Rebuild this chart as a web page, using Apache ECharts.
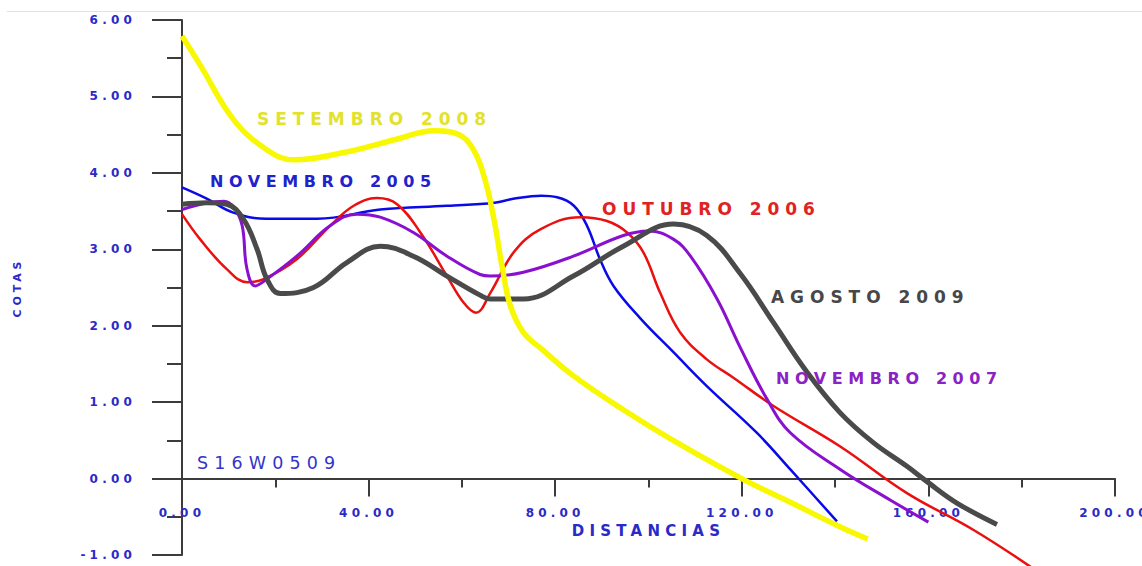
<!DOCTYPE html>
<html>
<head>
<meta charset="utf-8">
<script src="https://cdn.jsdelivr.net/npm/echarts@6/dist/echarts.min.js"></script>
<style>
    html, body { margin: 0; padding: 0; background: #fff; }
    #chart { width: 1142px; height: 566px; }
    /* espaçamento largo das letras, como no gráfico original */
    #chart text { letter-spacing: 0.35em; }
</style>
</head>
<body>
<div id="chart"></div>
<script>
/* ========== Perfil S16W0509 - cotas x distâncias ========== */

// [distância, cota]
const novembro2005 = [
    [0, 3.81], [5.4, 3.66], [11, 3.48], [18, 3.40], [29, 3.40], [42.5, 3.52],
    [56.8, 3.57], [67, 3.61], [71, 3.66], [77, 3.70], [80.4, 3.68], [84, 3.57],
    [86.8, 3.31], [89.6, 2.87], [92.5, 2.52], [98.2, 2.10], [105.4, 1.65],
    [112.5, 1.21], [123.2, 0.60], [130.4, 0.12], [140.4, -0.56],
];
const outubro2006 = [
    [0, 3.46], [3.9, 3.13], [9.6, 2.74], [14, 2.57], [17.5, 2.61], [24.6, 2.87],
    [31.8, 3.31], [36.8, 3.57], [41.8, 3.67], [46.1, 3.59], [51.1, 3.22],
    [56.8, 2.65], [60.4, 2.30], [63, 2.17], [66.1, 2.43], [71.1, 2.96],
    [76.8, 3.26], [85.4, 3.42], [91.1, 3.37], [95.4, 3.22], [98.9, 2.96],
    [102.5, 2.43], [106.8, 1.91], [112.5, 1.56], [118.2, 1.32], [126.8, 0.95],
    [141.1, 0.42], [155.4, -0.19], [169.6, -0.67], [183, -1.2],
];
const novembro2007 = [
    [0, 3.52], [5.4, 3.61], [9, 3.63], [11.1, 3.55], [12.9, 3.31], [13.9, 2.75],
    [15.7, 2.52], [18.2, 2.61], [24.6, 2.91], [31.8, 3.31], [37.5, 3.46],
    [42.5, 3.42], [49.6, 3.22], [56.8, 2.91], [63.9, 2.67], [66.1, 2.65],
    [73.2, 2.70], [83.9, 2.91], [94.6, 3.18], [100, 3.24], [105.4, 3.13],
    [109, 2.91], [114.7, 2.35], [119.7, 1.71], [125.4, 1.04], [130.4, 0.60],
    [141.1, 0.12], [151.8, -0.28], [160, -0.57],
];
const setembro2008 = [
    [0, 5.79], [4, 5.40], [11, 4.70], [18, 4.31], [24, 4.17], [35, 4.27],
    [46, 4.44], [54, 4.55], [59, 4.51], [62.5, 4.30], [65, 3.90], [67, 3.35],
    [68.6, 2.78], [70.4, 2.26], [73.2, 1.91], [77, 1.70], [84, 1.34],
    [94.6, 0.90], [105, 0.51], [120, 0.0], [130.4, -0.31], [141, -0.63], [147, -0.79],
];
const agosto2009 = [
    [0, 3.59], [5.4, 3.61], [9.6, 3.59], [13.2, 3.39], [16.1, 3.0], [18.2, 2.61],
    [21.1, 2.42], [28.2, 2.50], [35.4, 2.83], [42.5, 3.04], [49.6, 2.91],
    [56.8, 2.65], [63.9, 2.40], [66.1, 2.35], [73.2, 2.35], [83.9, 2.65],
    [94.6, 3.04], [105.4, 3.33], [112.5, 3.18], [119.7, 2.68], [126.8, 2.04],
    [134, 1.39], [141.1, 0.86], [148.2, 0.47], [155.4, 0.16], [159.7, -0.04],
    [166.1, -0.32], [174.7, -0.60],
];

const xTicks = [0, 40, 80, 120, 160, 200];
const yTicks = [-1, 0, 1, 2, 3, 4, 5, 6];

const BLUE_TEXT = "#2a2ac8";
const AXIS_COLOR = "#3c3c3c";
const FONT = "DejaVu Sans";

// grade: o eixo X fica na cota zero (deslocado para cima a partir da base)
const GRID = { left: 182, right: 27, top: 20, bottom: 11 };
const plotH = 566 - GRID.top - GRID.bottom;
const zeroOffset = -plotH * (0 - yTicks[0]) / (yTicks[yTicks.length - 1] - yTicks[0]);

function lineSeries(name, data, color, width) {
    return {
        name, type: "line", data,
        smooth: 0.4, showSymbol: false, clip: false,
        lineStyle: { color, width },
    };
}

function label(text, x, y, color, size, weight) {
    return {
        type: "text", x, y, z: 100,
        style: {
            text, fill: color,
            font: `${weight || "bold"} ${size}px "${FONT}"`,
            textVerticalAlign: "middle", verticalAlign: "middle",
        },
    };
}

const chart = echarts.init(document.getElementById("chart"), null, { renderer: "svg" });
chart.setOption({
    animation: false,
    backgroundColor: "#fff",
    grid: { ...GRID, outerBoundsMode: "none" },
    xAxis: {
        type: "value", min: xTicks[0], max: xTicks[xTicks.length - 1], interval: 40,
        offset: zeroOffset,
        name: "DISTANCIAS", nameLocation: "middle", nameGap: 43,
        nameTextStyle: { color: BLUE_TEXT, fontSize: 15, fontWeight: "bold", fontFamily: FONT },
        axisLine: { onZero: false, lineStyle: { color: AXIS_COLOR, width: 2 } },
        axisTick: { length: 18, lineStyle: { color: AXIS_COLOR, width: 2 } },
        minorTick: { show: true, splitNumber: 2, length: 9, lineStyle: { color: AXIS_COLOR, width: 2 } },
        axisLabel: {
            margin: 28, color: BLUE_TEXT, fontSize: 12, fontWeight: "bold", fontFamily: FONT,
            showMinLabel: true, showMaxLabel: true,
            formatter: v => v.toFixed(2),
        },
        splitLine: { show: false },
    },
    yAxis: {
        type: "value", min: yTicks[0], max: yTicks[yTicks.length - 1], interval: 1,
        name: "COTAS", nameLocation: "middle", nameGap: 159, nameRotate: 90,
        nameTextStyle: { color: BLUE_TEXT, fontSize: 11, fontWeight: "bold", fontFamily: FONT },
        axisLine: { show: true, onZero: false, lineStyle: { color: AXIS_COLOR, width: 2 } },
        axisTick: { show: true, length: 30, lineStyle: { color: AXIS_COLOR, width: 2 } },
        minorTick: { show: true, splitNumber: 2, length: 15, lineStyle: { color: AXIS_COLOR, width: 2 } },
        axisLabel: {
            margin: 46, color: BLUE_TEXT, fontSize: 12, fontWeight: "bold", fontFamily: FONT,
            showMinLabel: true, showMaxLabel: true,
            formatter: v => v.toFixed(2),
        },
        splitLine: { show: false },
    },
    graphic: [
        { type: "line", shape: { x1: 7, y1: 11.5, x2: 1142, y2: 11.5 }, style: { stroke: "#e2e2e2", lineWidth: 1 } },
        label("SETEMBRO 2008", 257, 119, "#e2e22a", 17),
        label("NOVEMBRO 2005", 210, 181, "#2222cc", 16),
        label("OUTUBRO 2006", 602, 209, "#e02222", 17),
        label("AGOSTO 2009", 771, 297, "#474747", 17),
        label("NOVEMBRO 2007", 776, 378, "#8a22c4", 16),
        label("S16W0509", 197, 463, "#3434c8", 17.5, "normal"),
    ],
    series: [
        lineSeries("NOVEMBRO 2005", novembro2005, "#0a0ae8", 2.5),
        lineSeries("OUTUBRO 2006", outubro2006, "#ea1010", 2.5),
        lineSeries("NOVEMBRO 2007", novembro2007, "#8a10d0", 3),
        lineSeries("AGOSTO 2009", agosto2009, "#4a4a4a", 5),
        lineSeries("SETEMBRO 2008", setembro2008, "#f8f800", 5.5),
    ],
});
</script>
</body>
</html>
